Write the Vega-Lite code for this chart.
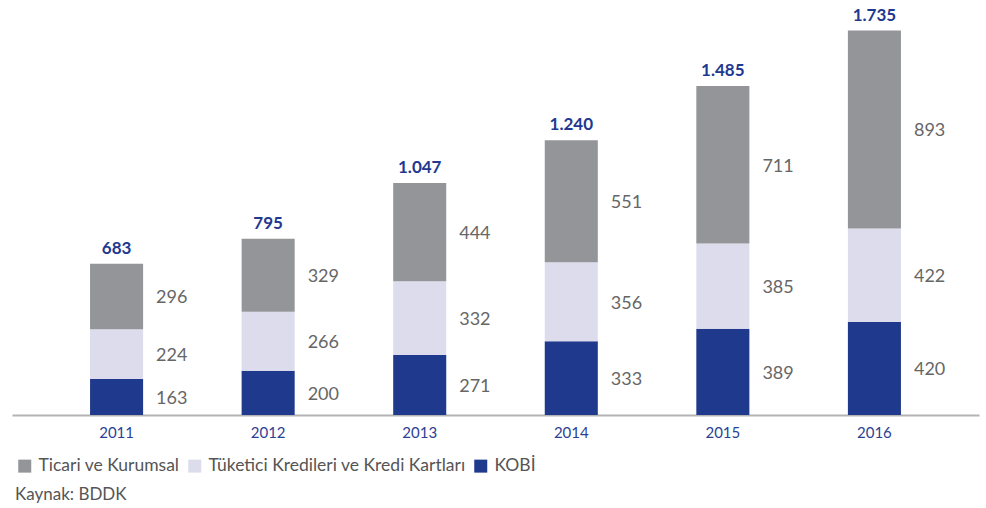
{
  "$schema": "https://vega.github.io/schema/vega-lite/v6.json",
  "width": 967,
  "height": 400,
  "autosize": "none",
  "padding": {"left": 12, "top": 15, "right": 7, "bottom": 93},
  "config": {
    "view": {"stroke": null},
    "font": "Lato",
    "locale": {"number": {"decimal": ",", "thousands": ".", "grouping": [3], "currency": ["", " TL"]}}
  },
  "title": {"text": "Kaynak: BDDK", "orient": "bottom", "anchor": "start", "fontSize": 17, "fontWeight": "normal", "color": "#555555", "offset": 12, "dx": 3},
  "data": {"values": [
    {"year": "2011", "category": "KOBİ", "order": 1, "value": 163},
    {"year": "2011", "category": "Tüketici Kredileri ve Kredi Kartları", "order": 2, "value": 224},
    {"year": "2011", "category": "Ticari ve Kurumsal", "order": 3, "value": 296},
    {"year": "2012", "category": "KOBİ", "order": 1, "value": 200},
    {"year": "2012", "category": "Tüketici Kredileri ve Kredi Kartları", "order": 2, "value": 266},
    {"year": "2012", "category": "Ticari ve Kurumsal", "order": 3, "value": 329},
    {"year": "2013", "category": "KOBİ", "order": 1, "value": 271},
    {"year": "2013", "category": "Tüketici Kredileri ve Kredi Kartları", "order": 2, "value": 332},
    {"year": "2013", "category": "Ticari ve Kurumsal", "order": 3, "value": 444},
    {"year": "2014", "category": "KOBİ", "order": 1, "value": 333},
    {"year": "2014", "category": "Tüketici Kredileri ve Kredi Kartları", "order": 2, "value": 356},
    {"year": "2014", "category": "Ticari ve Kurumsal", "order": 3, "value": 551},
    {"year": "2015", "category": "KOBİ", "order": 1, "value": 389},
    {"year": "2015", "category": "Tüketici Kredileri ve Kredi Kartları", "order": 2, "value": 385},
    {"year": "2015", "category": "Ticari ve Kurumsal", "order": 3, "value": 711},
    {"year": "2016", "category": "KOBİ", "order": 1, "value": 420},
    {"year": "2016", "category": "Tüketici Kredileri ve Kredi Kartları", "order": 2, "value": 422},
    {"year": "2016", "category": "Ticari ve Kurumsal", "order": 3, "value": 893}
  ]},
  "layer": [
    {
      "mark": {"type": "bar"},
      "encoding": {
        "x": {"field": "year", "type": "ordinal", "scale": {"paddingInner": 0.65, "paddingOuter": 0.515},
          "axis": {"title": null, "labelAngle": 0, "ticks": false, "domainColor": "#b3b3b3", "domainWidth": 2, "labelColor": "#2b3f94", "labelFontSize": 15, "labelPadding": 10}},
        "y": {"field": "value", "type": "quantitative", "stack": "zero", "scale": {"domain": [0, 1805], "nice": false, "zero": true}, "axis": null},
        "color": {"field": "category", "type": "nominal",
          "scale": {"domain": ["Ticari ve Kurumsal", "Tüketici Kredileri ve Kredi Kartları", "KOBİ"], "range": ["#939598", "#dddced", "#1f398c"]},
          "legend": {"title": null, "orient": "none", "legendX": 4, "legendY": 442, "direction": "horizontal", "symbolType": "square", "symbolSize": 169, "symbolStrokeWidth": 0, "labelFontSize": 17.5, "labelColor": "#555555", "columnPadding": 6, "labelOffset": 5, "labelLimit": 400}},
        "order": {"field": "order", "type": "quantitative"}
      }
    },
    {
      "transform": [
        {"stack": "value", "groupby": ["year"], "sort": [{"field": "order"}], "as": ["v0", "v1"]},
        {"calculate": "(datum.v0 + datum.v1) / 2", "as": "mid"}
      ],
      "mark": {"type": "text", "align": "left", "baseline": "middle", "dx": 13, "dy": 2, "fontSize": 18, "color": "#666666"},
      "encoding": {
        "x": {"field": "year", "type": "ordinal", "bandPosition": 1},
        "y": {"field": "mid", "type": "quantitative"},
        "text": {"field": "value", "type": "quantitative", "format": "d"}
      }
    },
    {
      "transform": [{"aggregate": [{"op": "sum", "field": "value", "as": "total"}], "groupby": ["year"]}],
      "mark": {"type": "text", "align": "center", "baseline": "bottom", "dy": -6, "fontSize": 17, "fontWeight": "bold", "color": "#22388f"},
      "encoding": {
        "x": {"field": "year", "type": "ordinal"},
        "y": {"field": "total", "type": "quantitative"},
        "text": {"field": "total", "type": "quantitative", "format": ",d"}
      }
    }
  ]
}
